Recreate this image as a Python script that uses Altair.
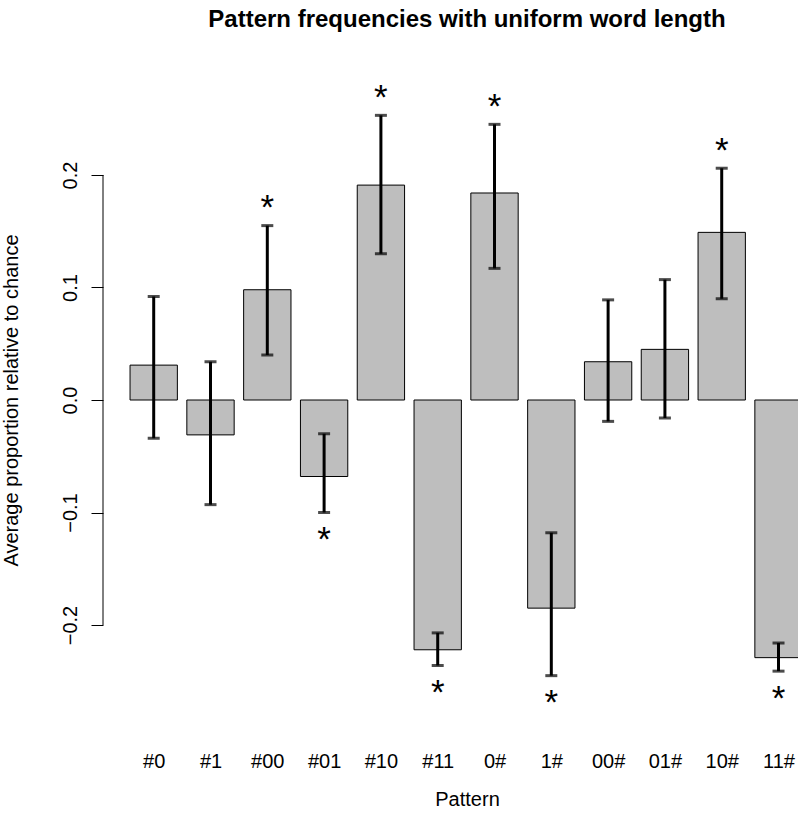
import json
import altair as alt
import pandas as pd

# ---- data ----
patterns = ["#0", "#1", "#00", "#01", "#10", "#11", "0#", "1#", "00#", "01#", "10#", "11#"]
means = [0.031, -0.031, 0.098, -0.068, 0.191, -0.222, 0.184, -0.185, 0.034, 0.045, 0.149, -0.229]
lowers = [-0.034, -0.093, 0.040, -0.100, 0.130, -0.236, 0.117, -0.245, -0.019, -0.016, 0.090, -0.241]
uppers = [0.092, 0.034, 0.155, -0.030, 0.253, -0.207, 0.245, -0.118, 0.089, 0.107, 0.206, -0.216]
significant = [False, False, True, True, True, True, True, True, False, False, True, True]
y_ticks = [-0.2, -0.1, 0.0, 0.1, 0.2]

FONT = "Liberation Sans"

df = pd.DataFrame({
    "idx": list(range(len(patterns))),
    "pattern": patterns,
    "mean": means,
    "lower": lowers,
    "upper": uppers,
    "sig": significant,
})
axis_df = pd.DataFrame({"lo": [min(y_ticks)], "hi": [max(y_ticks)]})

x_scale = alt.Scale(domain=[-0.8926, 11.343], nice=False, zero=False)
y_scale = alt.Scale(domain=[-0.3022, 0.3022], nice=False, zero=False)

label_array = json.dumps(patterns)

x_axis = alt.Axis(
    values=list(range(len(patterns))),
    labelExpr=f"{label_array}[datum.value]",
    domain=False, ticks=False, grid=False,
    labelPadding=27, labelBaseline="alphabetic", labelAlign="center",
    labelFontSize=20, labelFont=FONT, labelColor="black",
    labelFlush=False, labelOverlap=False,
    title="Pattern", titleFontSize=20, titleFont=FONT, titleFontWeight="normal",
    titleColor="black", titleX=364, titleY=65, titleBaseline="alphabetic",
    titleAlign="center", titleAnchor="start",
)
y_axis = alt.Axis(
    values=y_ticks,
    labelExpr="replace(format(datum.value, '.1f'), '-', '\u2212')",
    domain=False, grid=False,
    ticks=True, tickSize=12, tickColor="black", tickWidth=1,
    labelAngle=270, labelAlign="center", labelBaseline="alphabetic",
    labelPadding=15, labelFontSize=20, labelFont=FONT, labelColor="black",
    labelFlush=False, labelOverlap=False,
    title="Average proportion relative to chance",
    titleFontSize=20, titleFont=FONT, titleFontWeight="normal", titleColor="black",
    titleAngle=270, titleAlign="center", titleBaseline="alphabetic",
    titleX=-86, titleY=340,
)

base = alt.Chart(df)

bars = base.mark_bar(
    fill="#BEBEBE", stroke="black", strokeWidth=1, clip=True
).transform_calculate(
    x0="datum.idx - 0.5/1.2", x1="datum.idx + 0.5/1.2", zero="0"
).encode(
    x=alt.X("x0:Q", scale=x_scale, axis=x_axis),
    x2="x1:Q",
    y=alt.Y("mean:Q", scale=y_scale, axis=y_axis),
    y2="zero:Q",
)

err = base.mark_rule(color="black", strokeWidth=3).encode(
    x=alt.X("idx:Q", scale=x_scale, axis=x_axis),
    y=alt.Y("lower:Q", scale=y_scale, axis=y_axis),
    y2="upper:Q",
)

caps = base.transform_fold(["lower", "upper"], as_=["end", "val"]).mark_tick(
    color="black", orient="horizontal", size=12, thickness=3
).encode(
    x=alt.X("idx:Q", scale=x_scale, axis=x_axis),
    y=alt.Y("val:Q", scale=y_scale, axis=y_axis),
)

stars = base.transform_filter("datum.sig").transform_calculate(
    star_y="datum.mean >= 0 ? datum.upper + 0.02 : datum.lower - 0.02"
).mark_text(
    text="*", fontSize=35, font=FONT, color="black",
    align="center", baseline="alphabetic", dy=16
).encode(
    x=alt.X("idx:Q", scale=x_scale, axis=x_axis),
    y=alt.Y("star_y:Q", scale=y_scale, axis=y_axis),
)

yline = alt.Chart(axis_df).mark_rule(color="black", strokeWidth=1).encode(
    x=alt.value(0),
    y=alt.Y("lo:Q", scale=y_scale, axis=y_axis),
    y2="hi:Q",
)

chart = alt.layer(bars, err, caps, stars, yline).properties(
    width=695,
    height=680,
    padding={"left": 103, "top": 60, "right": 0, "bottom": 70},
    autosize=alt.AutoSizeParams(type="none"),
    title=alt.TitleParams(
        text="Pattern frequencies with uniform word length",
        fontSize=24, fontWeight="bold", font=FONT, color="black",
        anchor="middle", frame="group", dx=16.5,
        baseline="alphabetic", offset=9,
    ),
).configure(background="white").configure_view(stroke="transparent")

chart.save("out.html", embed_options={"renderer": "svg", "actions": False})
